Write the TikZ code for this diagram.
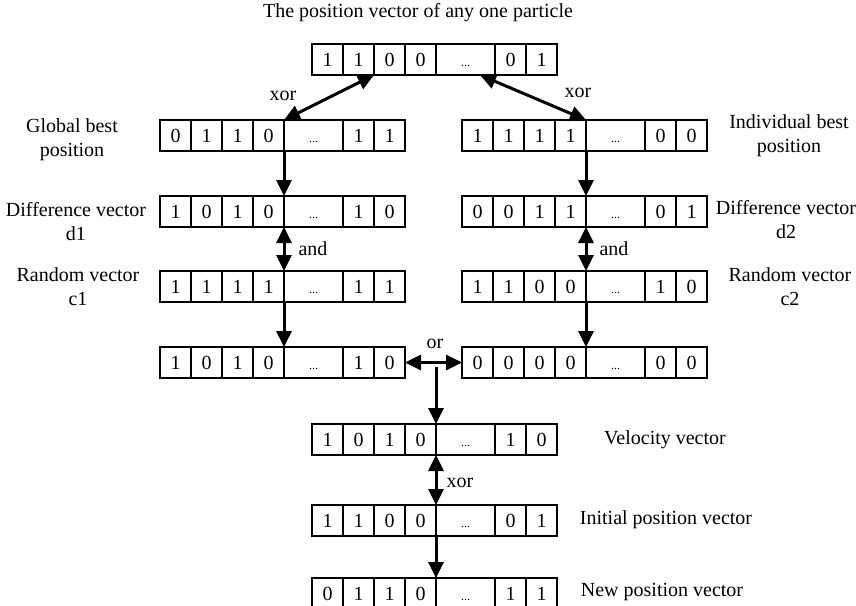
\documentclass[tikz,border=0pt]{standalone}
\usepackage{fontspec}
\setmainfont{Liberation Serif}
\usetikzlibrary{arrows.meta}
\usetikzlibrary{positioning}
\tikzset{
	>={Triangle[length=16pt, width=15pt]},
	cell/.style={draw, line width=2.5pt, outer sep=0pt, inner sep=0pt, minimum width=31pt, minimum height=31pt, text height=13pt, text depth=0pt},
	widecell/.style={cell, minimum width=59pt},
	lbl/.style={align=center, inner sep=0pt},
	link/.style={line width=3pt}
}
\newcommand{\bitrow}[8]{%
	\node [cell, anchor=north west] (#1-1) at (#2) {#3};
	\node [cell, right=0pt of #1-1] (#1-2) {#4};
	\node [cell, right=0pt of #1-2] (#1-3) {#5};
	\node [cell, right=0pt of #1-3] (#1-4) {#6};
	\node [widecell, right=0pt of #1-4] (#1-5) {\fontsize{12}{12}\selectfont ...};
	\node [cell, right=0pt of #1-5] (#1-6) {#7};
	\node [cell, right=0pt of #1-6] (#1-7) {#8};
}
\begin{document}
\begin{tikzpicture}[x=1pt, y=-1pt, font=\fontsize{20}{24}\selectfont]
	\useasboundingbox (0,0) rectangle (856,605);
	\bitrow{top}{312,44}{1}{1}{0}{0}{0}{1}
	\bitrow{gb}{160,120}{0}{1}{1}{0}{1}{1}
	\bitrow{ib}{462,120}{1}{1}{1}{1}{0}{0}
	\bitrow{d1}{160,196}{1}{0}{1}{0}{1}{0}
	\bitrow{d2}{462,196}{0}{0}{1}{1}{0}{1}
	\bitrow{c1}{160,271}{1}{1}{1}{1}{1}{1}
	\bitrow{c2}{462,271}{1}{1}{0}{0}{1}{0}
	\bitrow{rl}{160,347}{1}{0}{1}{0}{1}{0}
	\bitrow{rr}{462,347}{0}{0}{0}{0}{0}{0}
	\bitrow{vel}{312,424}{1}{0}{1}{0}{1}{0}
	\bitrow{ini}{312,505}{1}{1}{0}{0}{0}{1}
	\bitrow{new}{312,578}{0}{1}{1}{0}{1}{1}

	\node [lbl] (title) at (418,13) {The position vector of any one particle};
	\node [lbl] (gbl) at (72,140) {Global best\\position};
	\node [lbl] (d1l) at (76,222) {Difference vector\\d1};
	\node [lbl] (c1l) at (78,287) {Random vector\\c1};
	\node [lbl] (ibl) at (789,136) {Individual best\\position};
	\node [lbl] (d2l) at (786,220) {Difference vector\\d2};
	\node [lbl] (c2l) at (790,287) {Random vector\\c2};
	\node [lbl] (vell) at (665,440) {Velocity vector};
	\node [lbl] (inil) at (666,520) {Initial position vector};
	\node [lbl] (newl) at (662,592) {New position vector};

	\node [lbl] (xorl) at (283,96) {xor};
	\node [lbl] (xorr) at (578,93) {xor};
	\node [lbl] (andl) at (313,249) {and};
	\node [lbl] (andr) at (614,249) {and};
	\node [lbl] (orc) at (435,344) {or};
	\node [lbl] (xorc) at (460,483) {xor};

	\draw [link, <->] (gb-4.north east) -- (top-2.south east);
	\draw [link, <->] ([xshift=-15pt]top-5.south east) -- (ib-4.north east);
	\draw [link, ->] (gb-4.south east) -- (d1-4.north east);
	\draw [link, ->] (ib-4.south east) -- (d2-4.north east);
	\draw [link, <->] (d1-4.south east) -- (c1-4.north east);
	\draw [link, <->] (d2-4.south east) -- (c2-4.north east);
	\draw [link, ->] (c1-4.south east) -- (rl-4.north east);
	\draw [link, ->] (c2-4.south east) -- (rr-4.north east);
	\draw [link, <->] (rl-7.east) -- (rr-1.west);
	\draw [link, ->] ([yshift=-4pt]rl-7.east -| vel-4.north east) -- (vel-4.north east);
	\draw [link, <->] (vel-4.south east) -- (ini-4.north east);
	\draw [link, ->] (ini-4.south east) -- (new-4.north east);
\end{tikzpicture}
\end{document}
